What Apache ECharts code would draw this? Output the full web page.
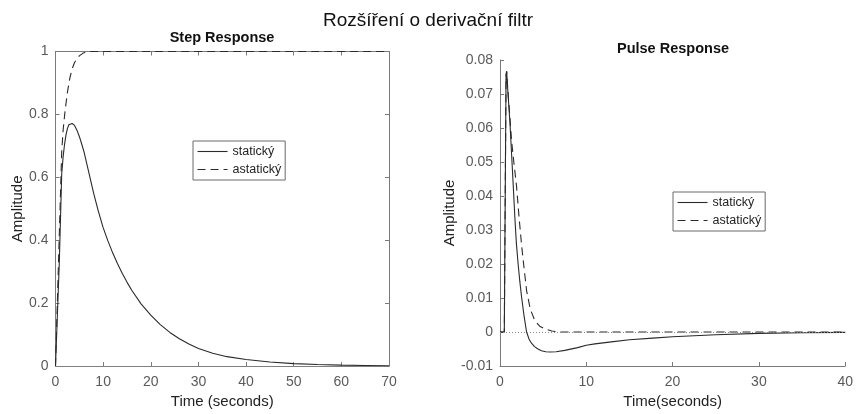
<!DOCTYPE html>
<html>
<head>
<meta charset="utf-8">
<script src="https://cdn.jsdelivr.net/npm/echarts@6/dist/echarts.min.js"></script>
<style>
html,body{margin:0;padding:0;background:#fff;}
#chart{width:856px;height:414px;}
</style>
</head>
<body>
<div id="chart"></div>
<script>
// ---- Data ----
const figureTitle = 'Rozšíření o derivační filtr';
const seriesNames = ['statický', 'astatický'];

// Step response, statický
const stepStaticT = [0, 0.3, 0.8, 1.3, 1.6, 1.9, 2.2, 2.5, 2.8, 3.1, 3.5, 4, 4.5, 5, 5.5, 6, 7, 8, 9, 10, 11, 12, 13, 14, 15, 16, 18, 20, 22, 24, 26, 28, 30, 33, 36, 40, 45, 50, 55, 60, 65, 70];
const stepStaticY = [0, 0, 0.33, 0.61, 0.665, 0.705, 0.735, 0.755, 0.767, 0.772, 0.771, 0.765, 0.75, 0.73, 0.706, 0.68, 0.615, 0.55, 0.492, 0.44, 0.398, 0.36, 0.326, 0.295, 0.267, 0.241, 0.197, 0.162, 0.132, 0.107, 0.087, 0.07, 0.056, 0.041, 0.03, 0.021, 0.013, 0.008, 0.005, 0.003, 0.002, 0.001];

// Step response, astatický
const stepAstaticT = [0, 0.3, 0.8, 1.3, 1.6, 2, 2.5, 3, 3.5, 4, 4.5, 5, 5.8, 7, 70];
const stepAstaticY = [0, 0, 0.42, 0.68, 0.75, 0.81, 0.87, 0.915, 0.945, 0.965, 0.977, 0.986, 0.995, 1, 1];

// Pulse response, statický
const pulseStaticT = [0, 0.5, 0.7, 0.77, 0.9, 1.15, 1.35, 1.54, 1.73, 1.9, 2.1, 2.3, 2.5, 2.8, 3.08, 3.4, 3.65, 4, 4.4, 4.8, 5.3, 5.8, 6.5, 7.5, 9, 10, 11, 12.9, 15, 17.7, 20, 25, 30, 35, 40];
const pulseStaticY = [0, 0, 0.0755, 0.0767, 0.0712, 0.0617, 0.052, 0.0427, 0.0333, 0.026, 0.02, 0.0148, 0.0103, 0.0045, 0, -0.0023, -0.0033, -0.0043, -0.005, -0.0055, -0.0058, -0.0059, -0.0058, -0.0054, -0.0046, -0.0039, -0.0035, -0.0029, -0.0023, -0.0018, -0.0014, -0.0008, -0.0004, -0.0002, -0.0001];

// Pulse response, astatický
const pulseAstaticT = [0, 0.5, 0.7, 0.77, 0.9, 1.15, 1.35, 1.6, 1.92, 2.2, 2.5, 2.8, 3.08, 3.5, 4.04, 4.6, 5.2, 6, 6.8, 40];
const pulseAstaticY = [0, 0, 0.0755, 0.0767, 0.0715, 0.063, 0.056, 0.05, 0.0428, 0.034, 0.0256, 0.0185, 0.0122, 0.0068, 0.0033, 0.0017, 0.0009, 0.0003, 0, 0];

// Axis ranges
const stepXRange = [0, 70, 10];
const stepYRange = [0, 1, 0.2];
const pulseXRange = [0, 40, 10];
const pulseYRange = [-0.01, 0.08, 0.01];

// ---- Chart ----
const zip = (t, y) => t.map((v, i) => [v, y[i]]);
const FONT = 'Liberation Sans, Arial, sans-serif';
const axisColor = '#7a7a7a';
const labelColor = '#5a5a5a';
const nameColor = '#222';

function mainX(grid, r, name, gap) {
  return {
    gridIndex: grid, type: 'value', min: r[0], max: r[1], interval: r[2], position: 'bottom',
    axisLine: {show: true, onZero: false, lineStyle: {color: axisColor, width: 1}},
    axisTick: {show: true, inside: true, length: 4, lineStyle: {color: axisColor}},
    axisLabel: {color: labelColor, fontSize: 14, margin: 9, fontFamily: FONT},
    splitLine: {show: false},
    name: name, nameLocation: 'middle', nameGap: gap,
    nameTextStyle: {color: nameColor, fontSize: 15, fontFamily: FONT}
  };
}
function mainY(grid, r, name, gap, dec) {
  return {
    gridIndex: grid, type: 'value', min: r[0], max: r[1], interval: r[2], position: 'left',
    axisLine: {show: true, onZero: false, lineStyle: {color: axisColor, width: 1}},
    axisTick: {show: true, inside: true, length: 4, lineStyle: {color: axisColor}},
    axisLabel: {color: labelColor, fontSize: 14, margin: 7, fontFamily: FONT,
      formatter: v => String(+v.toFixed(dec))},
    splitLine: {show: false},
    name: name, nameLocation: 'middle', nameGap: gap,
    nameTextStyle: {color: nameColor, fontSize: 15, fontFamily: FONT}
  };
}
function boxAxis(grid, r, pos) {
  return {
    gridIndex: grid, type: 'value', min: r[0], max: r[1], interval: r[2], position: pos,
    axisLine: {show: true, onZero: false, lineStyle: {color: axisColor, width: 1}},
    axisTick: {show: true, inside: true, length: 4, lineStyle: {color: axisColor}},
    axisLabel: {show: false}, splitLine: {show: false}
  };
}

const zeroLine = {
  silent: true, symbol: 'none', label: {show: false},
  lineStyle: {type: [1, 2], color: '#8a8a8a', width: 1},
  data: [{yAxis: 0}]
};

function lineSeries(name, xi, yi, data, dashed, mark) {
  const s = {
    name: name, type: 'line', xAxisIndex: xi, yAxisIndex: yi, data: data,
    symbol: 'none', smooth: false, animation: false,
    lineStyle: {color: '#2a2a2a', width: 1.1, type: dashed ? [8, 5] : 'solid'},
    itemStyle: {color: '#2a2a2a'}
  };
  if (mark) s.markLine = zeroLine;
  return s;
}

const legendBase = {
  orient: 'vertical', data: seriesNames, itemWidth: 30, itemHeight: 12, itemGap: 5,
  padding: [4, 4, 4, 4], borderColor: '#6a6a6a', borderWidth: 1, backgroundColor: '#fff',
  borderRadius: 0, selectedMode: false,
  itemStyle: {opacity: 0},
  lineStyle: {width: 1.1},
  textStyle: {fontSize: 12.5, color: '#222', fontFamily: FONT}
};

const chart = echarts.init(document.getElementById('chart'), null, {renderer: 'canvas'});
chart.setOption({
  animation: false,
  backgroundColor: '#fff',
  textStyle: {fontFamily: FONT},
  title: [
    {text: figureTitle, left: 428, top: 11, textAlign: 'center', padding: 0,
      textStyle: {fontSize: 19, fontWeight: 'normal', color: '#111', fontFamily: FONT}},
    {text: 'Step Response', left: 222, top: 30, textAlign: 'center', padding: 0,
      textStyle: {fontSize: 14.5, fontWeight: 'bold', color: '#111', fontFamily: FONT}},
    {text: 'Pulse Response', left: 673, top: 41, textAlign: 'center', padding: 0,
      textStyle: {fontSize: 14.5, fontWeight: 'bold', color: '#111', fontFamily: FONT}}
  ],
  grid: [
    {left: 55.5, top: 51.5, width: 333.5, height: 318.5},
    {left: 500, top: 60, width: 346.7, height: 312}
  ],
  xAxis: [
    mainX(0, stepXRange, 'Time (seconds)', 26),
    boxAxis(0, stepXRange, 'top'),
    mainX(1, pulseXRange, 'Time(seconds)', 28)
  ],
  yAxis: [
    mainY(0, stepYRange, 'Amplitude', 30, 1),
    boxAxis(0, stepYRange, 'right'),
    mainY(1, pulseYRange, 'Amplitude', 42, 2)
  ],
  legend: [
    Object.assign({left: 193, top: 141}, legendBase),
    Object.assign({left: 673, top: 192}, legendBase)
  ],
  series: [
    lineSeries(seriesNames[0], 0, 0, zip(stepStaticT, stepStaticY), false, true),
    lineSeries(seriesNames[1], 0, 0, zip(stepAstaticT, stepAstaticY), true, false),
    lineSeries(seriesNames[0], 2, 2, zip(pulseStaticT, pulseStaticY), false, true),
    lineSeries(seriesNames[1], 2, 2, zip(pulseAstaticT, pulseAstaticY), true, false)
  ]
});
</script>
</body>
</html>
